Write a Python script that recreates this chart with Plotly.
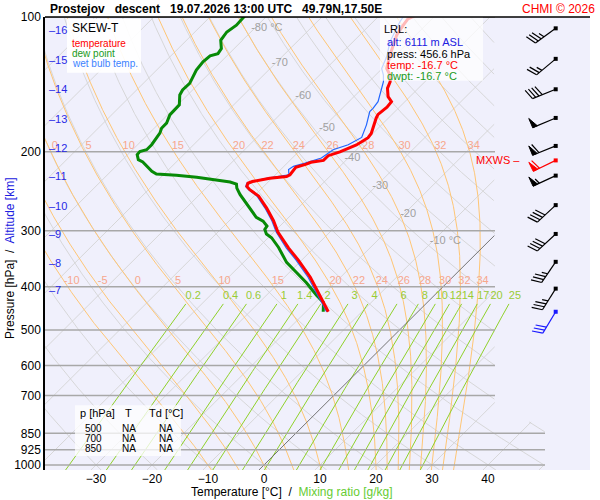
import numpy as np
import plotly.graph_objects as go

# --- sounding data (Prostejov descent 19.07.2026 13:00 UTC) ---
temp_p = [455, 405, 381, 349, 328, 302, 285, 267, 251, 243, 239, 235, 233, 229, 227, 225,
          219, 216.6, 213, 211, 209, 204, 200, 193, 186, 182, 168, 165, 159, 154.5, 150.6,
          144.3, 139.5, 134.8, 130.3, 121.7, 115.6, 109.8, 104.3, 101, 99]
temp_t = [-16.0, -22.1, -25.4, -30.6, -34.5, -39.3, -42.1, -45.6, -49.2, -51.9, -53.0, -53.4,
          -52.9, -50.4, -47.7, -47.4, -47.7, -47.7, -46.4, -45.9, -44.0, -44.0, -42.6, -40.9,
          -40.1, -40.3, -42.2, -42.5, -42.2, -42.4, -43.9, -45.5, -46.2, -47.4, -49.2, -51.0,
          -52.2, -53.4, -54.0, -54.3, -53.5]

dwpt_p = [455, 434, 419, 392, 372, 353, 327, 311, 305, 298, 293, 285.5, 280, 267, 260, 249,
          241, 236, 233.5, 230.6, 228, 225.6, 224.1, 221, 215.5, 210.6, 208.2, 202.9, 199.6,
          197.8, 192.8, 186.4, 181.7, 177.1, 172.6, 165.4, 159.9, 157.1, 149.3, 145.5, 140.7,
          137.1, 131.4, 125.9, 122.1, 120.7, 117.6, 112.7, 108, 104.3, 100, 98.5]
dwpt_t = [-16.9, -18.5, -20.9, -25.1, -28.7, -32.3, -36.4, -39.4, -41.0, -42.1, -42.3, -43.9,
          -45.8, -48.6, -50.1, -52.8, -54.5, -55.3, -56.8, -60.3, -63.6, -67.6, -71.4, -72.7,
          -74.5, -76.0, -77.2, -78.3, -78.4, -77.5, -77.5, -77.8, -78.1, -78.7, -78.7, -79.6,
          -79.6, -79.7, -81.4, -81.8, -81.7, -82.1, -82.9, -83.2, -83.0, -82.0, -82.3, -83.9,
          -84.3, -83.8, -84.0, -84.0]

wetb_p = [455, 405, 381, 349, 328, 302, 285, 267, 251, 243, 239, 235, 233, 229, 225, 219,
          215.5, 212, 208, 206.5, 197.8, 192.8, 185.7, 174.1, 162.6, 159.9, 154.5, 144.3,
          139.5, 134.8, 130.3, 122.7, 113.6, 108, 102.6, 100, 98.5]
wetb_t = [-16.3, -22.5, -25.8, -31.0, -34.9, -39.6, -42.4, -45.9, -49.5, -52.1, -53.2, -53.6,
          -53.1, -50.8, -47.6, -48.6, -48.3, -46.8, -45.2, -44.8, -44.2, -42.4, -41.3, -42.7,
          -44.5, -44.5, -44.8, -46.5, -47.4, -48.6, -50.1, -51.3, -53.4, -54.3, -55.2, -55.5,
          -55.6]

# wind (direction deg, speed kt)
wind_p = [106, 124, 145, 168, 194, 226, 263, 305, 352, 404]
wind_dir = [234, 230, 248, 247, 248, 245, 227, 227, 214, 212]
wind_kt = [35, 25, 40, 50, 60, 55, 40, 40, 35, 35]
mxws_p, mxws_dir, mxws_kt = 209, 244, 60
lrl_p, lrl_dir, lrl_kt = 455, 211, 30

alt_km = [7, 8, 9, 10, 11, 12, 13, 14, 15, 16]
alt_p = [406, 354, 305, 264, 227, 196, 169, 145, 125, 107]

pressure_levels = [100, 200, 300, 400, 500, 600, 700, 850, 925, 1000]
temp_ticks = [-30, -20, -10, 0, 10, 20, 30, 40]
iso_label_t = [-80, -70, -60, -50, -40, -30, -20, -10]
iso_label_p = [106, 127, 150, 177, 207, 239, 276, 316]
moist_tw = [-10, -5, 0, 5, 10, 15, 20, 22, 24, 26, 28, 30, 32, 34]
moist_lab_200 = [0, 5, 10, 15, 20, 22, 24, 26, 28, 30, 32, 34]
mix_w = [0.2, 0.4, 0.6, 1, 1.4, 2, 3, 4, 6, 8, 10, 12, 14, 17, 20, 25]
table_p = [500, 700, 850]
table_t = ["NA", "NA", "NA"]
table_td = ["NA", "NA", "NA"]

# --- skew-T geometry ---
PX_DEG = 5.6          # px per degC
PX_LN = 195.4         # px per ln(p)
K = PX_LN / PX_DEG
P_BOT = 100 * np.exp(455 / PX_LN)
X_L = (45 - 264) / PX_DEG
X_R = (590 - 264) / PX_DEG
CLIP_UP = (495 - 264) / PX_DEG
CLIP_LO = (545 - 264) / PX_DEG
LAB_DX = 4 / PX_DEG   # small nudge of the curve labels

RD, CPD, LV, EPS = 287.04, 1005.7, 2.501e6, 0.622


def skx(t, p):
    return np.asarray(t, float) + K * np.log(1000 / np.asarray(p, float))


def clip(x, p):
    lim = np.where(p >= 800, CLIP_LO, CLIP_UP)
    return np.where(x <= lim, x, np.nan)


def join(lines):
    xs, ys = [], []
    for x, y in lines:
        xs += list(x) + [None]
        ys += list(y) + [None]
    return xs, ys


def lapse(T, p):
    es = 6.112 * np.exp(17.67 * (T - 273.15) / (T - 29.65))
    rs = EPS * es / (p - es)
    return (RD * T + LV * rs) / (p * (CPD + LV * LV * rs * EPS / (RD * T * T)))


def moist(tw, plev):
    T = tw + 273.15
    out = [T]
    for p0, p1 in zip(plev[:-1], plev[1:]):
        k1 = lapse(T, p0)
        k2 = lapse(T + k1 * (p1 - p0) / 2, (p0 + p1) / 2)
        T = T + k2 * (p1 - p0)
        out.append(T)
    return np.array(out) - 273.15


def mix_td(w, p):
    e = w * p / (622 + w)
    a = np.log(e / 6.112)
    return 243.5 * a / (17.67 - a)


fig = go.Figure()
pp = np.geomspace(P_BOT, 98, 420)

# isotherms
lines = []
for t in range(-140, 60, 10):
    if t == 0:
        continue
    lines.append((clip(skx(t, pp), pp), pp))
x, y = join(lines)
fig.add_trace(go.Scatter(x=x, y=y, mode="lines", line=dict(color="#d4d4d4", width=0.9), hoverinfo="skip"))

# dry adiabats
lines = []
for th in range(-40, 210, 10):
    t = (th + 273.15) * (pp / 1000) ** (RD / CPD) - 273.15
    lines.append((clip(skx(t, pp), pp), pp))
x, y = join(lines)
fig.add_trace(go.Scatter(x=x, y=y, mode="lines", line=dict(color="#d4d4d4", width=0.9), hoverinfo="skip"))

# moist adiabats
p_up = np.geomspace(1000, 98, 400)
p_dn = np.geomspace(1000, P_BOT, 8)
lines = []
m200, m400 = {}, {}
for tw in moist_tw:
    tu = moist(tw, p_up)
    td = moist(tw, p_dn)
    pm = np.concatenate([p_dn[::-1], p_up[1:]])
    tm = np.concatenate([td[::-1], tu[1:]])
    lines.append((clip(skx(tm, pm), pm), pm))
    m200[tw] = np.interp(np.log(200), np.log(p_up[::-1]), tu[::-1])
    m400[tw] = np.interp(np.log(400), np.log(p_up[::-1]), tu[::-1])
x, y = join(lines)
fig.add_trace(go.Scatter(x=x, y=y, mode="lines", line=dict(color="#ffc675", width=1), hoverinfo="skip"))

# mixing ratio lines
pm = np.geomspace(P_BOT, 437, 60)
lines = [(skx(mix_td(w, pm), pm), pm) for w in mix_w]
x, y = join(lines)
fig.add_trace(go.Scatter(x=x, y=y, mode="lines", line=dict(color="#8fd12a", width=1), hoverinfo="skip"))

# 0 degC isotherm
fig.add_trace(go.Scatter(x=clip(skx(0, pp), pp), y=pp, mode="lines",
                         line=dict(color="#666666", width=0.9), hoverinfo="skip"))

# pressure lines
lines = [([X_L, CLIP_LO if p >= 800 else CLIP_UP], [p, p]) for p in pressure_levels]
x, y = join(lines)
fig.add_trace(go.Scatter(x=x, y=y, mode="lines", line=dict(color="#a8a8a8", width=1.5), hoverinfo="skip"))

# labels of background lines
fig.add_trace(go.Scatter(
    x=skx(iso_label_t, iso_label_p) - 0.6, y=iso_label_p, mode="text",
    text=[f"{t} °C" if t in (-80, -10) else str(t) for t in iso_label_t],
    textposition="middle right", textfont=dict(color="#a0a0a0", size=11), cliponaxis=False, hoverinfo="skip"))
lab_x = [skx(m200[t], 200) + LAB_DX for t in moist_lab_200] + [skx(m400[t], 400) + LAB_DX for t in moist_tw]
lab_y = [200] * len(moist_lab_200) + [400] * len(moist_tw)
lab_t = [str(t) for t in moist_lab_200] + [str(t) for t in moist_tw]
fig.add_trace(go.Scatter(x=lab_x, y=lab_y, mode="text", text=lab_t, textposition="top center",
                         textfont=dict(color="#f7a78c", size=11), hoverinfo="skip"))
fig.add_trace(go.Scatter(x=skx([mix_td(w, 420) for w in mix_w], 420) + 0.3, y=[420] * len(mix_w), mode="text",
                         text=[f"{w:g}" for w in mix_w], textposition="middle center",
                         textfont=dict(color="#99cc33", size=11), cliponaxis=False, hoverinfo="skip"))

# profiles
fig.add_trace(go.Scatter(x=skx(dwpt_t, dwpt_p), y=dwpt_p, mode="lines",
                         line=dict(color="#078a07", width=3), hoverinfo="skip"))
fig.add_trace(go.Scatter(x=skx(wetb_t, wetb_p), y=wetb_p, mode="lines",
                         line=dict(color="#2266ff", width=1.2), hoverinfo="skip"))
fig.add_trace(go.Scatter(x=skx(temp_t, temp_p), y=temp_p, mode="lines",
                         line=dict(color="#ff0000", width=3), hoverinfo="skip"))

# wind barbs
BARB_X = (555.7 - 264) / PX_DEG


def barb(p0, direc, spd, color):
    th = np.radians(direc)
    sx, sy = np.sin(th), -np.cos(th)
    qx, qy = -sy, sx
    a = np.radians(20)
    fx, fy = np.cos(a) * qx + np.sin(a) * sx, np.cos(a) * qy + np.sin(a) * sy
    L = 25

    def pt(dx, dy):
        return BARB_X + dx / PX_DEG, p0 * np.exp(dy / PX_LN)

    segs = [[pt(0, 0), pt(L * sx, L * sy)]]
    flags = []
    n50, rem = divmod(spd, 50)
    n10, rem = divmod(rem, 10)
    n5 = rem // 5
    pos = L
    for _ in range(n50):
        flags.append([pt(pos * sx, pos * sy), pt(pos * sx + 10 * qx, pos * sy + 10 * qy),
                      pt((pos - 5) * sx, (pos - 5) * sy)])
        pos -= 7
    for _ in range(n10):
        segs.append([pt(pos * sx, pos * sy), pt(pos * sx + 11 * fx, pos * sy + 11 * fy)])
        pos -= 3.5
    for _ in range(n5):
        if pos == L:
            pos -= 3.5
        segs.append([pt(pos * sx, pos * sy), pt(pos * sx + 6 * fx, pos * sy + 6 * fy)])
    xs, ys = [], []
    for s in segs:
        xs += [s[0][0], s[1][0], None]
        ys += [s[0][1], s[1][1], None]
    fig.add_trace(go.Scatter(x=xs, y=ys, mode="lines", line=dict(color=color, width=1.2), hoverinfo="skip"))
    for f in flags:
        fig.add_trace(go.Scatter(x=[q[0] for q in f] + [f[0][0]], y=[q[1] for q in f] + [f[0][1]],
                                 mode="lines", fill="toself", fillcolor=color,
                                 line=dict(color=color, width=1), hoverinfo="skip"))
    fig.add_trace(go.Scatter(x=[BARB_X], y=[p0], mode="markers",
                             marker=dict(color=color, size=4, symbol="square"), hoverinfo="skip"))


for p, d, s in zip(wind_p, wind_dir, wind_kt):
    barb(p, d, s, "black")
barb(mxws_p, mxws_dir, mxws_kt, "#ff0000")
barb(lrl_p, lrl_dir, lrl_kt, "#1a1aff")


# --- annotations and boxes ---
def xp(px):
    return (px - 45) / 545


def yp(py):
    return (470 - py) / 455


FONT = "Liberation Sans, Arial, sans-serif"
ann = []
shapes = []


def txt(px, py, s, color="black", size=11, anchor="left", **kw):
    ann.append(dict(x=xp(px), y=yp(py), xref="paper", yref="paper", text=s, showarrow=False,
                    xanchor=anchor, yanchor="middle", font=dict(color=color, size=size, family=FONT), **kw))


def box(x0, y0, x1, y1, op):
    shapes.append(dict(type="rect", xref="paper", yref="paper", x0=xp(x0), x1=xp(x1), y0=yp(y0), y1=yp(y1),
                       fillcolor="white", opacity=op, line=dict(width=0), layer="above"))


sp = "\u00a0"
txt(48, 7, f"<b>Prostejov{sp*3}descent{sp*3}19.07.2026 13:00 UTC{sp*3}49.79N,17.50E</b>", size=12)
txt(597, 7, "CHMI © 2026", color="#ff0000", size=12, anchor="right")

box(67, 17, 141, 71, 0.92)
txt(70, 26, "SKEW-T", size=12)
txt(70, 42, "temperature", color="#ff0000", size=10)
txt(70, 52, "dew point", color="#1a9a1a", size=10)
txt(70, 62, "wet bulb temp.", color="#3c82ff", size=10)

box(380, 15, 483, 79, 0.72)
txt(382, 27, "LRL:")
txt(385, 40, "alt: 6111 m ASL", color="#2020e0")
txt(385, 52, "press: 456.6 hPa")
txt(385, 63, "temp: -16.7 °C", color="#ff0000")
txt(385, 74, "dwpt: -16.7 °C", color="#1a9a1a")

box(75, 405, 181, 456, 0.75)
txt(78, 413, "p [hPa]", size=11)
txt(128, 413, "T", size=11, anchor="center")
txt(147, 413, "Td [°C]", size=11)
for i, (p, t, td) in enumerate(zip(table_p, table_t, table_td)):
    txt(93, 428 + 10 * i, str(p), size=10, anchor="center")
    txt(129, 428 + 10 * i, t, size=10, anchor="center")
    txt(166, 428 + 10 * i, td, size=10, anchor="center")

txt(522, 159, "MXWS –", color="#ff0000", size=11, anchor="right")
txt(292, 492, "Temperature [°C]  /  <span style='color:#66cc33'>Mixing ratio [g/kg]</span>", size=12, anchor="center")
txt(10, 258, "Pressure [hPa]  /  <span style='color:#2020e0'>Altitude [km]</span>", size=12, anchor="center",
    textangle=-90)

for km, p in zip(alt_km, alt_p):
    ann.append(dict(x=xp(47), y=np.log10(p), xref="paper", yref="y", text=f"–{km}", showarrow=False,
                    xanchor="left", yanchor="middle", font=dict(color="#2828e6", size=11, family=FONT)))

shapes.append(dict(type="line", xref="paper", yref="paper", x0=0, x1=1, y0=1, y1=1,
                   line=dict(color="black", width=1.5)))

fig.update_layout(
    width=600, height=500,
    margin=dict(l=45, r=10, t=15, b=30),
    paper_bgcolor="white", plot_bgcolor="#f0f0fc",
    showlegend=False,
    font=dict(family=FONT, size=12, color="black"),
    xaxis=dict(range=[X_L, X_R], tickvals=temp_ticks, showgrid=False, zeroline=False,
               ticks="", tickfont=dict(size=12)),
    yaxis=dict(type="log", range=[np.log10(P_BOT), 2], tickvals=pressure_levels,
               ticktext=[str(p) for p in pressure_levels], showgrid=False, zeroline=False,
               showline=True, linecolor="black", linewidth=1.5, ticks="", tickfont=dict(size=12)),
    annotations=ann, shapes=shapes,
)

fig.write_html("out.html", config={"displayModeBar": False},
               post_script="document.body.style.margin='0px';document.body.style.overflow='hidden';")
